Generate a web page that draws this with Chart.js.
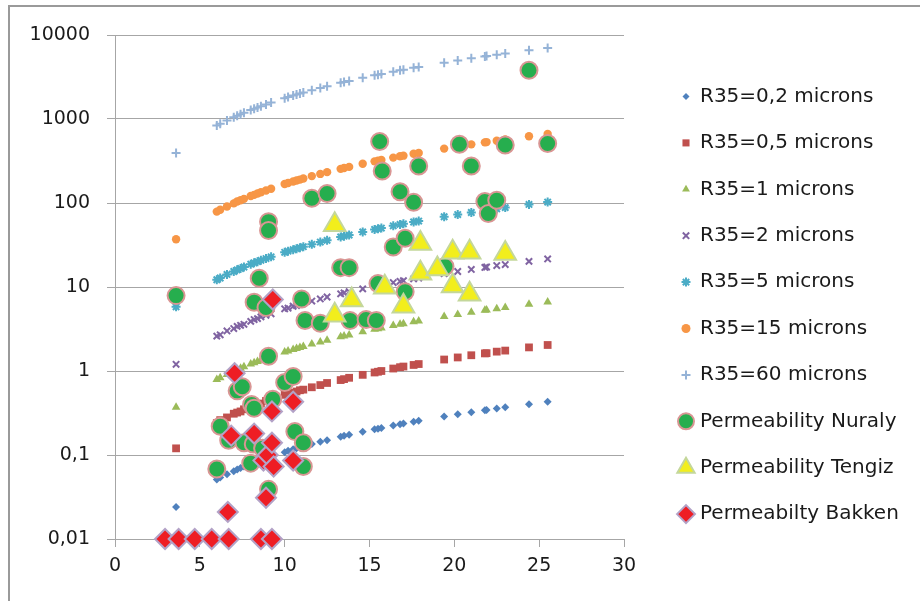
<!DOCTYPE html>
<html>
<head>
<meta charset="utf-8">
<script src="https://cdn.jsdelivr.net/npm/chart.js@4.4.0/dist/chart.umd.min.js"></script>
<style>
  html, body { margin: 0; padding: 0; background: #fff; }
  #wrap { width: 920px; height: 601px; }
</style>
</head>
<body>
<div id="wrap"><canvas id="myChart" width="920" height="601"></canvas></div>
<script>
// porosity values shared by the R35 curves
let porosity = [3.6, 6.0, 6.2, 6.6, 7.0, 7.2, 7.4, 7.6, 8.0, 8.2, 8.4, 8.6, 8.9, 9.2, 10.0, 10.2, 10.5, 10.7, 10.9, 11.1,
  11.6, 12.1, 12.5, 13.3, 13.5, 13.8, 14.6, 15.3, 15.5, 15.7, 16.4, 16.8, 17.0, 17.6, 17.9, 19.4, 20.2, 21.0, 21.8, 21.9,
  22.5, 23.0, 24.4, 25.5];

let r02 = [0.024, 0.051, 0.054, 0.059, 0.064, 0.067, 0.070, 0.073, 0.078, 0.081, 0.084, 0.087, 0.091, 0.096, 0.108, 0.112,
  0.117, 0.120, 0.123, 0.126, 0.135, 0.144, 0.150, 0.165, 0.169, 0.174, 0.189, 0.203, 0.206, 0.210, 0.224, 0.233, 0.237,
  0.249, 0.255, 0.287, 0.305, 0.323, 0.341, 0.343, 0.357, 0.369, 0.402, 0.429];
let r05 = [0.12, 0.24, 0.26, 0.28, 0.31, 0.32, 0.33, 0.35, 0.37, 0.39, 0.40, 0.41, 0.44, 0.46, 0.52, 0.53, 0.55, 0.57, 0.59,
  0.60, 0.64, 0.68, 0.72, 0.78, 0.80, 0.83, 0.90, 0.96, 0.98, 1.00, 1.07, 1.11, 1.13, 1.18, 1.21, 1.37, 1.45, 1.54, 1.62,
  1.63, 1.70, 1.75, 1.91, 2.04];
let r1 = [0.37, 0.79, 0.83, 0.91, 0.99, 1.04, 1.08, 1.12, 1.21, 1.25, 1.30, 1.34, 1.41, 1.48, 1.68, 1.73, 1.80, 1.85, 1.90,
  1.96, 2.09, 2.22, 2.33, 2.55, 2.61, 2.69, 2.93, 3.13, 3.19, 3.26, 3.47, 3.60, 3.66, 3.85, 3.94, 4.44, 4.71, 4.99, 5.27,
  5.31, 5.52, 5.70, 6.22, 6.64];
let r2 = [1.2, 2.6, 2.7, 3.0, 3.2, 3.4, 3.5, 3.6, 3.9, 4.1, 4.2, 4.4, 4.6, 4.8, 5.5, 5.6, 5.9, 6.0, 6.2, 6.4, 6.8, 7.2, 7.6,
  8.3, 8.5, 8.8, 9.5, 10.2, 10.4, 10.6, 11.3, 11.7, 11.9, 12.5, 12.8, 14.4, 15.3, 16.2, 17.1, 17.3, 18.0, 18.5, 20.2, 21.6];
let r5 = [5.8, 12.2, 12.8, 14.1, 15.3, 16.0, 16.6, 17.3, 18.7, 19.4, 20.0, 20.8, 21.8, 22.9, 25.9, 26.7, 27.8, 28.6, 29.4,
  30.2, 32.2, 34.3, 35.9, 39.4, 40.3, 41.6, 45.2, 48.4, 49.3, 50.3, 53.5, 55.6, 56.5, 59.4, 60.9, 68.6, 72.8, 77.1, 81.4,
  82.0, 85.3, 88.1, 96.1, 102.5];
let r15 = [37, 79, 83, 91, 99, 104, 108, 112, 121, 125, 130, 134, 141, 148, 168, 173, 180, 185, 190, 196, 209, 222, 233,
  255, 261, 269, 293, 313, 319, 326, 347, 360, 366, 385, 394, 444, 471, 499, 527, 531, 552, 570, 622, 664];
let r60 = [395, 836, 877, 962, 1049, 1093, 1138, 1183, 1276, 1323, 1371, 1419, 1492, 1567, 1771, 1824, 1903, 1956, 2010,
  2065, 2203, 2344, 2457, 2694, 2753, 2843, 3089, 3309, 3372, 3438, 3660, 3798, 3864, 4063, 4165, 4688, 4976, 5271, 5565,
  5607, 5830, 6022, 6569, 7008];

// measured samples
let nuralyX = [3.6, 6.0, 6.2, 6.7, 7.2, 7.5, 7.6, 8.0, 8.05, 8.2, 8.15, 8.2, 8.5, 8.7, 8.9, 9.05, 9.05, 9.05, 9.05, 9.3,
  10.0, 10.5, 10.6, 11.0, 11.1, 11.1, 11.2, 11.6, 12.1, 12.5, 13.3, 13.8, 13.85, 14.8, 15.4, 15.5, 15.6, 15.75, 16.4, 16.8,
  17.1, 17.1, 17.6, 17.9, 19.45, 20.3, 21.0, 21.8, 22.0, 22.5, 23.0, 24.4, 25.5];
let nuralyY = [7.9, 0.068, 0.22, 0.15, 0.58, 0.65, 0.14, 0.08, 0.40, 0.36, 0.135, 6.6, 12.7, 0.12, 5.7, 60, 47, 1.5, 0.039,
  0.46, 0.73, 0.86, 0.19, 7.2, 0.14, 0.073, 4.0, 114, 3.7, 130, 17, 17, 4.0, 4.1, 4.0, 11, 540, 240, 30, 136,
  38, 8.8, 102, 276, 17.5, 500, 276, 104, 75, 108, 490, 3800, 510];

let tengizX = [12.95, 12.95, 13.95, 15.9, 17.0, 18.0, 18.0, 19.0, 19.9, 19.9, 20.9, 20.9, 23.0];
let tengizY = [55, 4.6, 7.0, 9.9, 5.9, 33, 14.6, 16.4, 26, 10.3, 26, 8.2, 25];

let bakkenX = [2.95, 3.75, 4.7, 5.7, 6.7, 8.6, 9.25, 6.65, 6.85, 7.05, 8.2, 8.75, 8.9, 9.0, 9.25, 9.25, 9.3, 9.35, 10.5, 10.5];
let bakkenY = [0.01, 0.01, 0.01, 0.01, 0.01, 0.01, 0.01, 0.021, 0.17, 0.94, 0.18, 0.086, 0.031, 0.1, 0.14, 0.33, 7.1, 0.073,
  0.43, 0.086];

let yTickValues = [0.01, 0.1, 1, 10, 100, 1000, 10000];
let yTickLabels = ["0,01", "0,1", "1", "10", "100", "1000", "10000"];

function pts(xs, ys) {
  return xs.map((x, i) => ({ x: x, y: ys[i] }));
}

let font = { family: "DejaVu Sans", size: 19 };
let gridColor = "#a6a6a6";

let seriesList = [
  { label: "R35=0,2 microns", data: pts(porosity, r02), style: "rectRot", r: 4, bg: "#4f81bd", bc: "#4f81bd", bw: 0, lr: 3.5 },
  { label: "R35=0,5 microns", data: pts(porosity, r05), style: "rect", r: 5.5, bg: "#c0504d", bc: "#c0504d", bw: 0, lr: 5 },
  { label: "R35=1 microns", data: pts(porosity, r1), style: "triangle", r: 5, bg: "#9bbb59", bc: "#9bbb59", bw: 0, lr: 4.5 },
  { label: "R35=2 microns", data: pts(porosity, r2), style: "crossRot", r: 4.5, bg: "#8064a2", bc: "#8064a2", bw: 2, lr: 4.5 },
  { label: "R35=5 microns", data: pts(porosity, r5), style: "star", r: 4.5, bg: "#4bacc6", bc: "#4bacc6", bw: 2, lr: 4.5 },
  { label: "R35=15 microns", data: pts(porosity, r15), style: "circle", r: 4.2, bg: "#f79646", bc: "#f79646", bw: 0, lr: 4.5 },
  { label: "R35=60 microns", data: pts(porosity, r60), style: "cross", r: 4.5, bg: "#95b3d7", bc: "#95b3d7", bw: 2, lr: 4.5 },
  { label: "Permeability Nuraly", data: pts(nuralyX, nuralyY), style: "circle", r: 8.5, bg: "#26ae4e", bc: "#d99694", bw: 2, lr: 8 },
  { label: "Permeability Tengiz", data: pts(tengizX, tengizY), style: "triangle", r: 12.5, bg: "#f2ee1c", bc: "#c4d79b", bw: 2, lr: 10 },
  { label: "Permeabilty Bakken", data: pts(bakkenX, bakkenY), style: "rectRot", r: 10, bg: "#ee1d24", bc: "#b3a2c7", bw: 2, lr: 9 }
];

let datasets = seriesList.map((s, i) => ({
  label: s.label,
  data: s.data,
  pointStyle: s.style,
  pointRadius: s.r,
  pointBackgroundColor: s.bg,
  pointBorderColor: s.bc,
  pointBorderWidth: s.bw,
  showLine: false,
  clip: false,
  order: seriesList.length - i
}));

// white page and the grey frame round the chart
let framePlugin = {
  id: "frame",
  beforeDraw(chart) {
    let ctx = chart.ctx;
    ctx.save();
    ctx.fillStyle = "#fff";
    ctx.fillRect(0, 0, chart.width, chart.height);
    ctx.strokeStyle = "#9a9a9a";
    ctx.lineWidth = 2;
    ctx.strokeRect(9, 6, 1200, 1200);
    ctx.restore();
  }
};

// legend on the right, drawn by hand so the rows match the picture
let legendPlugin = {
  id: "sideLegend",
  afterDraw(chart) {
    let ctx = chart.ctx;
    ctx.save();
    seriesList.forEach((s, i) => {
      let y = 96.5 + i * 46.4;
      ctx.fillStyle = s.bg;
      ctx.strokeStyle = s.bc;
      ctx.lineWidth = s.bw;
      Chart.helpers.drawPoint(ctx, { pointStyle: s.style, radius: s.lr, rotation: 0, borderWidth: s.bw }, 686, y);
      ctx.fillStyle = "#1a1a1a";
      ctx.font = "20px 'DejaVu Sans'";
      ctx.textBaseline = "middle";
      ctx.textAlign = "left";
      ctx.fillText(s.label, 700, y);
    });
    ctx.restore();
  }
};

let chart = new Chart("myChart", {
  type: "scatter",
  data: { datasets: datasets },
  plugins: [framePlugin, legendPlugin],
  options: {
    responsive: false,
    animation: false,
    layout: { padding: { left: 0, top: 35, right: 296, bottom: 0 } },
    plugins: {
      legend: { display: false },
      tooltip: { enabled: false }
    },
    scales: {
      x: {
        type: "linear",
        min: 0,
        max: 30,
        ticks: { stepSize: 5, font: font, color: "#1a1a1a", padding: 8 },
        grid: { drawOnChartArea: false, tickLength: 8, color: gridColor },
        border: { color: gridColor },
        afterFit(scale) { scale.height = 62; }
      },
      y: {
        type: "logarithmic",
        min: 0.01,
        max: 10000,
        afterBuildTicks(axis) {
          axis.ticks = yTickValues.map(v => ({ value: v }));
        },
        ticks: {
          font: font,
          color: "#1a1a1a",
          padding: 17,
          autoSkip: false,
          callback: (v) => yTickLabels[yTickValues.indexOf(v)]
        },
        grid: { tickLength: 8, color: gridColor },
        border: { color: gridColor },
        afterFit(scale) { scale.width = 115; }
      }
    }
  }
});
</script>
</body>
</html>
